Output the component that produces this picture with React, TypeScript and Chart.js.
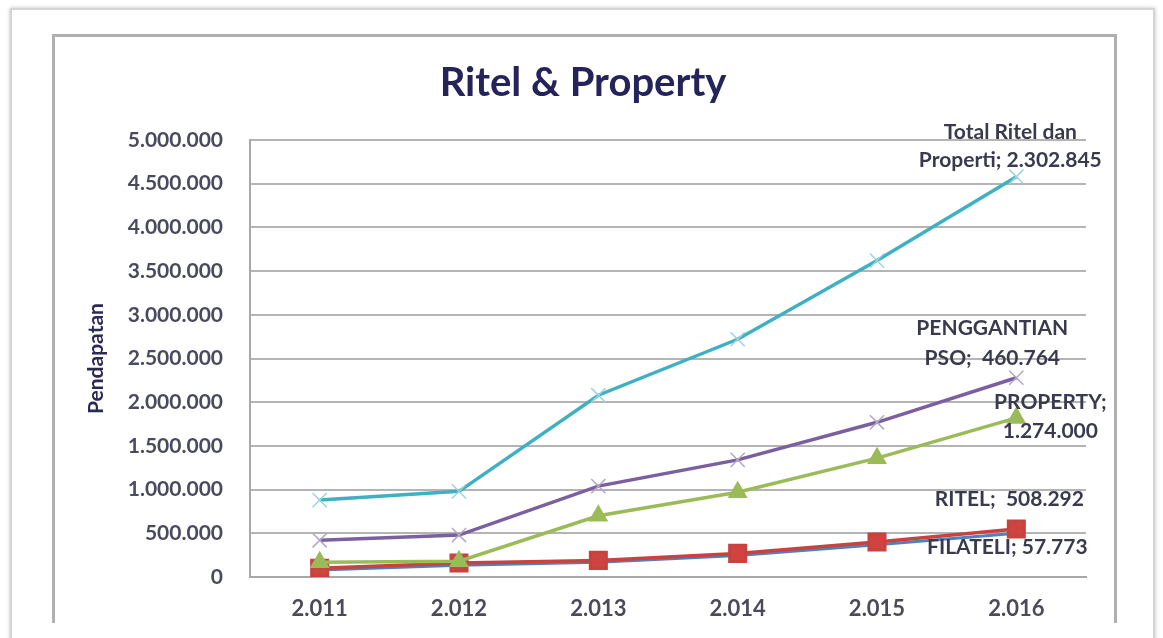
import React, { useEffect, useRef } from "react";
import { Chart, registerables } from "chart.js";

Chart.register(...registerables);

const categories = ["2.011", "2.012", "2.013", "2.014", "2.015", "2.016"];
const totalRitelProperti = [880000, 980000, 2080000, 2720000, 3620000, 4580000];
const penggantianPSO = [420000, 480000, 1040000, 1340000, 1770000, 2280000];
const property = [170000, 180000, 700000, 970000, 1360000, 1820000];
const ritel = [100000, 160000, 190000, 270000, 400000, 550000];
const filateli = [80000, 135000, 170000, 245000, 370000, 500000];

const labelTotal = ["Total Ritel dan", "Properti; 2.302.845"];
const labelPSO = ["PENGGANTIAN", "PSO;  460.764"];
const labelProperty = ["PROPERTY;", "1.274.000"];
const labelRitel = ["RITEL;  508.292"];
const labelFilateli = ["FILATELI; 57.773"];

const fmt = (v: number) => String(v).replace(/\B(?=(\d{3})+(?!\d))/g, ".");

const FONT = "Lato, 'Open Sans', sans-serif";

const endLabelPlugin = {
  id: "endLabels",
  afterDatasetsDraw(chart: any) {
    const ctx = chart.ctx;
    chart.data.datasets.forEach((ds: any, i: number) => {
      const cfg = ds.endLabel;
      if (!cfg) return;
      const meta = chart.getDatasetMeta(i);
      const pt = meta.data[meta.data.length - 1];
      if (!pt) return;
      ctx.save();
      ctx.font = `bold 21px ${FONT}`;
      ctx.fillStyle = "#3a3a4e";
      ctx.textAlign = "center";
      ctx.textBaseline = "middle";
      cfg.lines.forEach((line: string, k: number) => {
        ctx.fillText(line, pt.x + cfg.dx, pt.y + cfg.dy + k * cfg.gap);
      });
      ctx.restore();
    });
  },
};

export default function App() {
  const ref = useRef<HTMLCanvasElement>(null);
  useEffect(() => {
    if (!ref.current) return;
    const chart = new Chart(ref.current, {
      type: "line",
      data: {
        labels: categories,
        datasets: [
          {
            label: "PROPERTY",
            data: property,
            borderColor: "#9bbb59",
            backgroundColor: "#9bbb59",
            borderWidth: 3.5,
            pointStyle: "triangle",
            pointRadius: 8,
            endLabel: { lines: labelProperty, dx: 34, dy: -16, gap: 29 },
          } as any,
          {
            label: "RITEL",
            data: ritel,
            borderColor: "#c8433f",
            backgroundColor: "#d04440",
            borderWidth: 3.5,
            pointStyle: "rect",
            pointRadius: 11,
            endLabel: { lines: labelRitel, dx: -7, dy: -30, gap: 0 },
          } as any,
          {
            label: "FILATELI",
            data: filateli,
            borderColor: "#4f81bd",
            backgroundColor: "#4f81bd",
            borderWidth: 3,
            pointRadius: 0,
            endLabel: { lines: labelFilateli, dx: -9, dy: 14, gap: 0 },
          } as any,
          {
            label: "PENGGANTIAN PSO",
            data: penggantianPSO,
            borderColor: "#7b5fa0",
            backgroundColor: "#7b5fa0",
            pointBorderColor: "#b3a7c4",
            borderWidth: 3.5,
            pointStyle: "crossRot",
            pointRadius: 10,
            pointBorderWidth: 1.5,
            endLabel: { lines: labelPSO, dx: -24, dy: -49, gap: 30 },
          } as any,
          {
            label: "Total Ritel dan Properti",
            data: totalRitelProperti,
            borderColor: "#3fb0c4",
            backgroundColor: "#3fb0c4",
            pointBorderColor: "#9cd3df",
            borderWidth: 3.5,
            pointStyle: "crossRot",
            pointRadius: 10,
            pointBorderWidth: 1.5,
            endLabel: { lines: labelTotal, dx: -6, dy: -44, gap: 28 },
          } as any,
        ],
      },
      options: {
        animation: false,
        responsive: false,
        maintainAspectRatio: false,
        layout: { padding: { top: 50, left: 80, right: 77, bottom: 0 } },
        plugins: {
          legend: { display: false },
          tooltip: { enabled: false },
          title: {
            display: true,
            text: "Ritel & Property",
            color: "#24245a",
            font: { family: FONT, size: 40, weight: "bold", lineHeight: 1.2 },
            padding: { top: 9, bottom: 33 },
          },
        },
        scales: {
          x: {
            offset: true,
            afterFit: (scale: any) => {
              scale.height = 61;
            },
            grid: { display: false, drawTicks: false },
            border: { display: true, color: "#a8a8a8", width: 2 },
            ticks: {
              color: "#4a4a5a",
              font: { family: FONT, size: 22, weight: "bold" },
              padding: 19,
            },
          },
          y: {
            min: 0,
            max: 5000000,
            afterFit: (scale: any) => {
              scale.width = 170;
            },
            grid: { color: "#b4b4b4", lineWidth: 2, drawTicks: false },
            border: { display: true, color: "#a8a8a8", width: 2 },
            ticks: {
              stepSize: 500000,
              color: "#4a4a5e",
              font: { family: FONT, size: 21, weight: "bold" },
              padding: 27,
              callback: (v: any) => fmt(Number(v)),
            },
            title: {
              display: true,
              text: "Pendapatan",
              color: "#2a2a55",
              font: { family: FONT, size: 21, weight: "bold", lineHeight: 1.2 },
              padding: { top: 4, bottom: 0 },
            },
          },
        },
      },
      plugins: [endLabelPlugin],
    } as any);
    return () => chart.destroy();
  }, []);

  return (
    <div style={{ position: "fixed", left: 0, top: 0, width: 1163, height: 638, background: "#fff", overflow: "hidden" }}>
      <div
        style={{
          position: "absolute",
          left: 10,
          top: 8,
          width: 1145,
          height: 640,
          border: "2px solid #d4d4d4",
          boxShadow: "0 0 4px rgba(0,0,0,0.25)",
          boxSizing: "border-box",
        }}
      />
      <div
        style={{
          position: "absolute",
          left: 52,
          top: 34,
          width: 1065,
          height: 589,
          borderLeft: "3px solid #b0b0b0",
          borderTop: "3px solid #b0b0b0",
          borderRight: "3px solid #b0b0b0",
          boxSizing: "border-box",
        }}
      />
      <canvas ref={ref} width={1163} height={638} style={{ position: "absolute", left: 0, top: 0, width: 1163, height: 638 }} />
    </div>
  );
}
